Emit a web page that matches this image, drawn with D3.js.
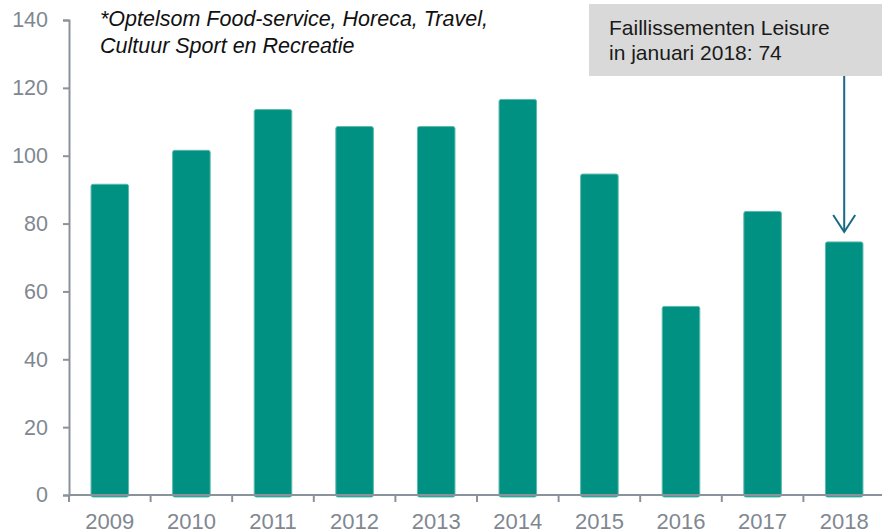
<!DOCTYPE html>
<html>
<head>
<meta charset="utf-8">
<script src="https://cdn.jsdelivr.net/npm/d3@7"></script>
<style>
  body { margin: 0; background: #fff; }
  svg { display: block; font-family: "Liberation Sans", Arial, sans-serif; }
  .axis path, .axis line { stroke: #8a939b; stroke-width: 2; }
  .axis text { fill: #7f8891; }
</style>
</head>
<body>
<div id="chart"></div>
<script>
// faillissementen leisure per jaar (januari)
var years = ["2009", "2010", "2011", "2012", "2013", "2014", "2015", "2016", "2017", "2018"];
var failures = [91, 101, 113, 108, 108, 116, 94, 55, 83, 74];
var yTicks = [0, 20, 40, 60, 80, 100, 120, 140];
var noteLines = ["*Optelsom Food-service, Horeca, Travel,", "Cultuur Sport en Recreatie"];
var calloutLines = ["Faillissementen Leisure", "in januari 2018: 74"];
var calloutYear = "2018";
var calloutValue = 74;

var width = 882, height = 531;
var margin = {top: 20, right: -3, bottom: 36, left: 69};
var innerW = width - margin.left - margin.right;
var innerH = height - margin.top - margin.bottom;

var svg = d3.select("#chart").append("svg")
    .attr("width", width)
    .attr("height", height);

var g = svg.append("g")
    .attr("transform", "translate(" + margin.left + "," + margin.top + ")");

var x = d3.scaleBand()
    .domain(years)
    .range([0, innerW])
    .paddingInner(0.54)
    .paddingOuter(0.27);

var y = d3.scaleLinear()
    .domain([0, 140])
    .range([innerH, 0]);

// bars
g.selectAll(".bar")
    .data(failures)
  .enter().append("rect")
    .attr("class", "bar")
    .attr("x", function(d, i) { return x(years[i]); })
    .attr("width", x.bandwidth())
    .attr("y", function(d) { return y(d) - 2; })
    .attr("height", function(d) { return innerH - y(d) + 4; })
    .attr("rx", 2)
    .attr("fill", "#009182")
    .attr("stroke", "#5cb8ad")
    .attr("stroke-width", 1);

// y axis
var yAxis = d3.axisLeft(y)
    .tickValues(yTicks)
    .tickSize(6)
    .tickSizeOuter(6)
    .tickPadding(15);

var yg = g.append("g")
    .attr("class", "axis")
    .call(yAxis);
yg.selectAll("text").style("font-size", "21.5px");

// x axis: ticks sit between categories
var step = x.step();
var xg = g.append("g")
    .attr("class", "axis")
    .attr("transform", "translate(0," + innerH + ")");

xg.append("line")
    .attr("x1", 0).attr("x2", innerW)
    .attr("y1", 0).attr("y2", 0);

xg.selectAll(".tick")
    .data(d3.range(years.length))
  .enter().append("line")
    .attr("x1", function(i) { return i * step; })
    .attr("x2", function(i) { return i * step; })
    .attr("y1", 0).attr("y2", 7);

xg.selectAll(".year")
    .data(years)
  .enter().append("text")
    .attr("class", "year")
    .attr("x", function(d) { return x(d) + x.bandwidth() / 2; })
    .attr("y", 34)
    .attr("text-anchor", "middle")
    .style("font-size", "22px")
    .text(function(d) { return d; });

// note, top left
svg.append("g").selectAll("text")
    .data(noteLines)
  .enter().append("text")
    .attr("x", 100)
    .attr("y", function(d, i) { return 26 + i * 26.5; })
    .style("font-size", "21.5px")
    .style("font-style", "italic")
    .attr("fill", "#111")
    .text(function(d) { return d; });

// callout box with arrow
var ax = margin.left + x(calloutYear) + x.bandwidth() / 2;
var boxTop = 4, boxBottom = 76;

svg.append("rect")
    .attr("x", 589)
    .attr("y", boxTop)
    .attr("width", width - 589)
    .attr("height", boxBottom - boxTop)
    .attr("fill", "#d9d9d9");

svg.append("g").selectAll("text")
    .data(calloutLines)
  .enter().append("text")
    .attr("x", 609)
    .attr("y", function(d, i) { return 34.5 + i * 25; })
    .style("font-size", "21px")
    .attr("fill", "#1a1a1a")
    .text(function(d) { return d; });

var tipY = margin.top + y(calloutValue) - 12;
svg.append("line")
    .attr("x1", ax).attr("x2", ax)
    .attr("y1", boxBottom).attr("y2", tipY)
    .attr("stroke", "#176a86")
    .attr("stroke-width", 2);

svg.append("path")
    .attr("d", "M" + (ax - 11) + "," + (tipY - 17) + "L" + ax + "," + tipY + "L" + (ax + 11) + "," + (tipY - 17))
    .attr("fill", "none")
    .attr("stroke", "#176a86")
    .attr("stroke-width", 2);
</script>
</body>
</html>
